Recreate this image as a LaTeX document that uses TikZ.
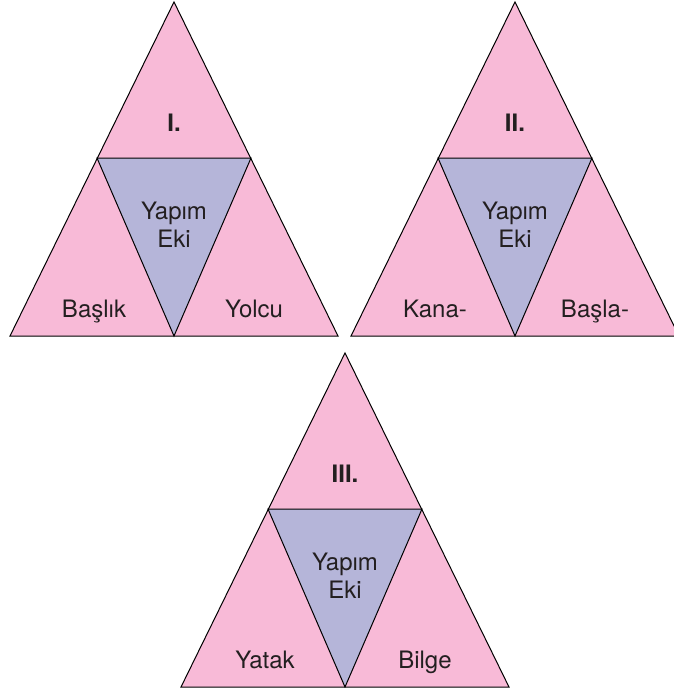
\documentclass[tikz,border=0pt]{standalone}
\usepackage{fontspec}
\setmainfont{TeX Gyre Heros}
\definecolor{pembe}{RGB}{248,186,215}
\definecolor{lila}{RGB}{181,181,217}
\definecolor{yazi}{RGB}{35,31,32}

\begin{document}
\begin{tikzpicture}[x=1pt, y=-1pt, line width=1pt,
    every node/.style={text=yazi, font=\fontsize{24}{28}\selectfont, align=center}]
   \useasboundingbox (0,0) rectangle (673,688);

   \foreach [count=\i] \x/\y/\r/\a/\b in {174/2/I./Başlık/Yolcu, 515/2/II./Kana-/Başla-, 345/353/III./Yatak/Bilge}
   {
     \coordinate (t\i) at (\x,\y);
     \coordinate (l\i) at (\x-164,\y+334);
     \coordinate (r\i) at (\x+164,\y+334);
     \coordinate (b\i) at (\x,\y+334);
     \coordinate (p\i) at (\x-77,\y+156);
     \coordinate (q\i) at (\x+77,\y+156);
     \draw[fill=pembe] (t\i) -- (l\i) -- (r\i) -- cycle;
     \draw[fill=lila] (p\i) -- (q\i) -- (b\i) -- cycle;
     \node [font=\fontsize{24}{28}\selectfont\bfseries, anchor=base] (no\i) at (\x,\y+129) {\r};
     \node (ek\i) at (\x,\y+223) {Yapım\\Eki};
     \node [anchor=base] (sol\i) at (\x-80,\y+315) {\a};
     \node [anchor=base] (sag\i) at (\x+80,\y+315) {\b};
   }

\end{tikzpicture}
\end{document}
